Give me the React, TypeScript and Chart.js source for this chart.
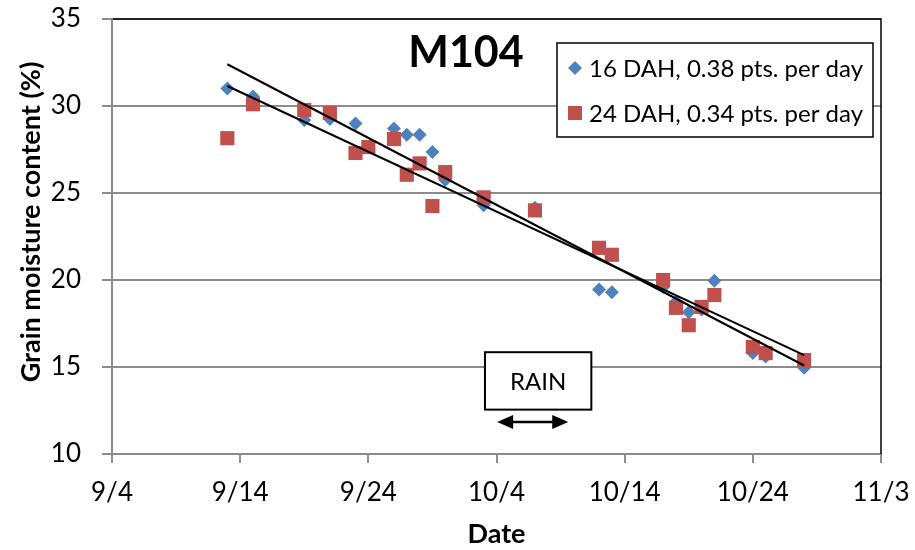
import React, { useEffect, useRef } from "react";
import { Chart, registerables } from "chart.js";

Chart.register(...registerables);

// ---- Data ----
const dates16 = ["9/13", "9/15", "9/19", "9/21", "9/23", "9/26", "9/27", "9/28", "9/29", "9/30", "10/3", "10/7", "10/12", "10/13", "10/17", "10/18", "10/19", "10/20", "10/21", "10/24", "10/25", "10/28"];
const moisture16 = [31.0, 30.55, 29.2, 29.25, 29.0, 28.7, 28.35, 28.35, 27.35, 25.75, 24.3, 24.15, 19.45, 19.3, 19.6, 18.75, 18.15, 18.3, 19.95, 15.8, 15.6, 14.95];
const dates24 = ["9/13", "9/15", "9/19", "9/21", "9/23", "9/24", "9/26", "9/27", "9/28", "9/29", "9/30", "10/3", "10/7", "10/12", "10/13", "10/17", "10/18", "10/19", "10/20", "10/21", "10/24", "10/25", "10/28"];
const moisture24 = [28.15, 30.1, 29.77, 29.6, 27.3, 27.64, 28.1, 26.05, 26.7, 24.25, 26.2, 24.75, 24.0, 21.85, 21.45, 20.0, 18.4, 17.4, 18.45, 19.14, 16.15, 15.8, 15.4];
const seriesNames = ["16 DAH, 0.38 pts. per day", "24 DAH, 0.34 pts. per day"];
const xTickLabels = ["9/4", "9/14", "9/24", "10/4", "10/14", "10/24", "11/3"];
const chartTitle = "M104";
const xTitle = "Date";
const yTitle = "Grain moisture content (%)";
const rainLabel = "RAIN";
const rainStart = "10/4";
const rainEnd = "10/9";

const BLUE = "#4F81BD";
const RED = "#C0504D";
const GRID = "#8C8C8C";
const FONT = "Lato, 'Open Sans', sans-serif";

const baseDate = new Date(2000, 8, 4);
function toDay(s: string): number {
  const [m, d] = s.split("/").map(Number);
  return Math.round((new Date(2000, m - 1, d).getTime() - baseDate.getTime()) / 86400000);
}

function trend(xs: number[], ys: number[]) {
  const n = xs.length;
  const mx = xs.reduce((a, b) => a + b, 0) / n;
  const my = ys.reduce((a, b) => a + b, 0) / n;
  let sxy = 0, sxx = 0;
  for (let i = 0; i < n; i++) {
    sxy += (xs[i] - mx) * (ys[i] - my);
    sxx += (xs[i] - mx) * (xs[i] - mx);
  }
  const b = sxy / sxx;
  const a = my - b * mx;
  const x0 = Math.min(...xs), x1 = Math.max(...xs);
  return [{ x: x0, y: a + b * x0 }, { x: x1, y: a + b * x1 }];
}

const overlay = {
  id: "overlay",
  beforeDatasetsDraw(chart: any) {
    const { ctx, chartArea: a } = chart;
    ctx.save();
    ctx.strokeStyle = "#000";
    ctx.lineWidth = 1.5;
    ctx.beginPath();
    ctx.moveTo(a.left + 1, a.top);
    ctx.lineTo(a.right, a.top);
    ctx.lineTo(a.right, a.bottom);
    ctx.stroke();
    ctx.restore();
  },
  afterDatasetsDraw(chart: any) {
    const { ctx, scales } = chart;
    const xs = scales.x, ys = scales.y;
    ctx.save();

    // Y axis title
    ctx.save();
    ctx.translate(31, 222);
    ctx.rotate(-Math.PI / 2);
    ctx.font = `bold 27px ${FONT}`;
    ctx.fillStyle = "#000";
    ctx.textAlign = "center";
    ctx.textBaseline = "middle";
    ctx.fillText(yTitle, 0, 0);
    ctx.restore();

    // Chart title
    ctx.font = `bold 43px ${FONT}`;
    ctx.fillStyle = "#000";
    ctx.textAlign = "center";
    ctx.textBaseline = "middle";
    ctx.fillText(chartTitle, 466, 53);

    // Legend box
    const lx = 557, ly = 43, lw = 316, lh = 94;
    ctx.fillStyle = "#fff";
    ctx.fillRect(lx, ly, lw, lh);
    ctx.strokeStyle = "#000";
    ctx.lineWidth = 1.5;
    ctx.strokeRect(lx, ly, lw, lh);
    const rows = [68, 113];
    ctx.fillStyle = BLUE;
    ctx.beginPath();
    ctx.moveTo(575, rows[0] - 7);
    ctx.lineTo(582, rows[0]);
    ctx.lineTo(575, rows[0] + 7);
    ctx.lineTo(568, rows[0]);
    ctx.closePath();
    ctx.fill();
    ctx.fillStyle = RED;
    ctx.fillRect(568, rows[1] - 7, 14, 14);
    ctx.fillStyle = "#000";
    ctx.font = `24px ${FONT}`;
    ctx.textAlign = "left";
    ctx.textBaseline = "middle";
    ctx.fillText(seriesNames[0], 589, rows[0] + 1);
    ctx.fillText(seriesNames[1], 589, rows[1] + 1);

    // Rain box
    const bx0 = xs.getPixelForValue(29.1), bx1 = xs.getPixelForValue(37.4);
    const by0 = ys.getPixelForValue(15.85), by1 = ys.getPixelForValue(12.55);
    ctx.fillStyle = "#fff";
    ctx.fillRect(bx0, by0, bx1 - bx0, by1 - by0);
    ctx.strokeStyle = "#000";
    ctx.lineWidth = 2;
    ctx.strokeRect(bx0, by0, bx1 - bx0, by1 - by0);
    ctx.fillStyle = "#000";
    ctx.font = `24px ${FONT}`;
    ctx.textAlign = "center";
    ctx.fillText(rainLabel, (bx0 + bx1) / 2, (by0 + by1) / 2 + 1);

    // Rain arrow
    const ax0 = xs.getPixelForValue(toDay(rainStart) + 0.05);
    const ax1 = xs.getPixelForValue(toDay(rainEnd) + 0.6);
    const ay = ys.getPixelForValue(11.84);
    ctx.lineWidth = 2.5;
    ctx.beginPath();
    ctx.moveTo(ax0 + 10, ay);
    ctx.lineTo(ax1 - 10, ay);
    ctx.stroke();
    ctx.beginPath();
    ctx.moveTo(ax0, ay);
    ctx.lineTo(ax0 + 16, ay - 7);
    ctx.lineTo(ax0 + 16, ay + 7);
    ctx.closePath();
    ctx.fill();
    ctx.beginPath();
    ctx.moveTo(ax1, ay);
    ctx.lineTo(ax1 - 16, ay - 7);
    ctx.lineTo(ax1 - 16, ay + 7);
    ctx.closePath();
    ctx.fill();

    ctx.restore();
  },
};

export default function App() {
  const canvasRef = useRef<HTMLCanvasElement | null>(null);

  useEffect(() => {
    const canvas = canvasRef.current;
    if (!canvas) return;
    const x16 = dates16.map(toDay);
    const x24 = dates24.map(toDay);
    const pts16 = x16.map((x, i) => ({ x, y: moisture16[i] }));
    const pts24 = x24.map((x, i) => ({ x, y: moisture24[i] }));

    const chart = new Chart(canvas, {
      type: "scatter",
      data: {
        datasets: [
          {
            label: seriesNames[0],
            data: pts16,
            pointStyle: "rectRot",
            pointRadius: 7,
            pointBorderWidth: 0,
            backgroundColor: BLUE,
            borderColor: BLUE,
            order: 3,
          },
          {
            label: seriesNames[1],
            data: pts24,
            pointStyle: "rect",
            pointRadius: 10,
            pointBorderWidth: 0,
            backgroundColor: RED,
            borderColor: RED,
            order: 2,
          },
          {
            label: "trend16",
            data: trend(x16, moisture16),
            showLine: true,
            pointRadius: 0,
            borderColor: "#000",
            borderWidth: 2,
            order: 1,
          },
          {
            label: "trend24",
            data: trend(x24, moisture24),
            showLine: true,
            pointRadius: 0,
            borderColor: "#000",
            borderWidth: 2,
            order: 0,
          },
        ],
      },
      options: {
        responsive: false,
        animation: false,
        devicePixelRatio: 1,
        layout: { padding: { left: 0, top: 19, right: 34, bottom: 0 } },
        plugins: {
          legend: { display: false },
          tooltip: { enabled: false },
          title: { display: false },
        },
        scales: {
          x: {
            type: "linear",
            min: 0,
            max: 60,
            afterFit: (s: any) => {
              s.height = 96;
              s.paddingLeft = 0;
              s.paddingRight = 0;
            },
            ticks: {
              stepSize: 10,
              autoSkip: false,
              maxRotation: 0,
              padding: 14,
              color: "#000",
              font: { family: FONT, size: 26 },
              callback: (v: any) => xTickLabels[Math.round(Number(v) / 10)] ?? "",
            },
            grid: { drawOnChartArea: false, drawTicks: true, tickLength: 9, color: GRID, lineWidth: 2 },
            border: { color: GRID, width: 2 },
            title: {
              display: true,
              text: xTitle,
              color: "#000",
              font: { family: FONT, size: 27, weight: "bold" },
              padding: { top: 0, bottom: 0 },
            },
          },
          y: {
            min: 10,
            max: 35,
            afterFit: (s: any) => {
              s.width = 112;
              s.paddingTop = 0;
              s.paddingBottom = 0;
            },
            ticks: {
              stepSize: 5,
              padding: 21,
              color: "#000",
              font: { family: FONT, size: 26 },
            },
            grid: { drawOnChartArea: true, drawTicks: true, tickLength: 10, color: GRID, lineWidth: 2 },
            border: { color: GRID, width: 2 },
          },
        },
      },
      plugins: [overlay],
    } as any);
    return () => chart.destroy();
  }, []);

  return (
    <div style={{ position: "absolute", left: 0, top: 0, width: 915, height: 550, background: "#fff" }}>
      <canvas ref={canvasRef} width={915} height={550} />
    </div>
  );
}
